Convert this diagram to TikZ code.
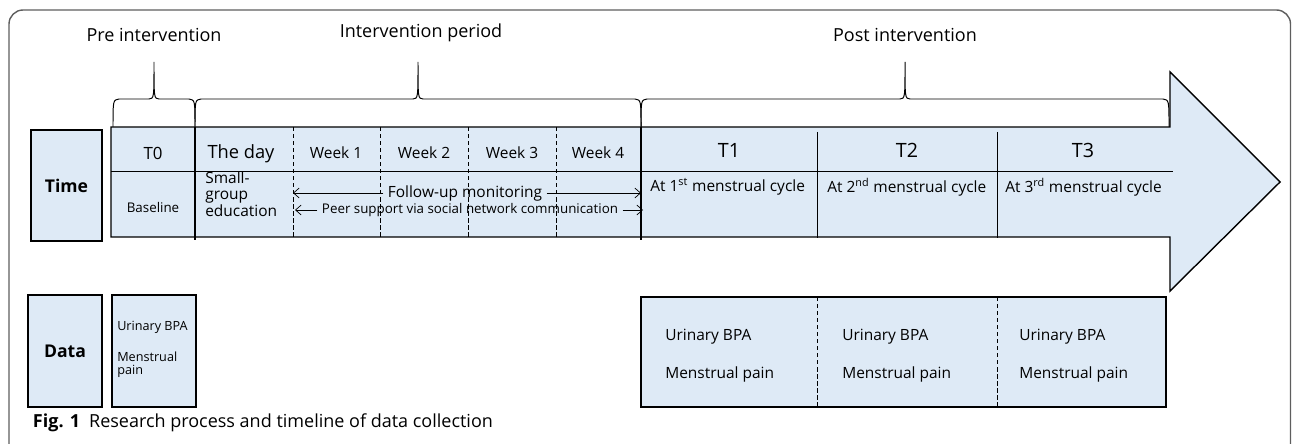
\documentclass[tikz,border=0pt]{standalone}
\usepackage{fontspec}
\setmainfont{Open Sans}
\usetikzlibrary{arrows.meta,positioning,calc}
\definecolor{paleblue}{HTML}{DEEAF6}
\definecolor{framegray}{HTML}{5E5E5E}

\begin{document}
\begin{tikzpicture}[x=.025cm,y=-.025cm,
  phase/.style={font=\fontsize{12.8}{15}\selectfont},
  box/.style={draw,line width=1.1pt,fill=paleblue,inner sep=0pt},
  cell/.style={font=\fontsize{11}{13}\selectfont},
  note/.style={font=\fontsize{11}{13}\selectfont,anchor=west,inner sep=0pt},
  barb/.style={-{Straight Barb[length=4pt,width=7pt]},line width=.5pt}]
\useasboundingbox (0,0) rectangle (1292,444);
\draw[framegray,line width=1pt,rounded corners=10pt] (9,470)--(9,10)--(1290.5,10)--(1290.5,470);
% phases and braces
\node[phase] (pre) at (154,35){Pre intervention};
\node[phase] (during) at (421,33){Intervention period};
\node[phase] (post) at (905,35){Post intervention};
\foreach \a/\m/\b in {113/154/195,195/418/641,641/905/1169}
  \draw[line width=.7pt] (\a,128) .. controls (\a,100) .. (\a+6,99) -- (\m-5,99) .. controls (\m,98.5) .. (\m,62) .. controls (\m,98.5) .. (\m+5,99) -- (\b-6,99) .. controls (\b,100) .. (\b,128);
% timeline arrow
\draw[line width=1pt,fill=paleblue] (111,127)--(1170,127)--(1170,72)--(1280,182)--(1170,291)--(1170,237)--(111,237)--cycle;
\draw[line width=.7pt] (111,171)--(1173,171);
\draw[line width=.8pt] (195,127)--(195,240) (641,127)--(641,240);
\draw[line width=.7pt] (817,132)--(817,238) (997,132)--(997,238);
\foreach \x in {293,380,468,556}
  \draw[dash pattern=on 3pt off 2pt,line width=.4pt] (\x,127)--(\x,237);
% row labels
\node[box,minimum width=1.78cm,minimum height=2.78cm,font=\fontsize{12.5}{14}\selectfont\bfseries] (time) at (66.5,185.5){Time};
\node[box,minimum width=1.86cm,minimum height=2.8cm,font=\fontsize{12.5}{14}\selectfont\bfseries] (data) at (65,351){Data};
% top row
\node[cell,font=\fontsize{12}{14}\selectfont] (t0) at (153,153){T0};
\node[cell,font=\fontsize{13}{15}\selectfont] (day) at (241,154){The day};
\node[cell] (w1) at (336,153){Week 1};
\node[cell] (w2) at (424,153){Week 2};
\node[cell] (w3) at (512,153){Week 3};
\node[cell] (w4) at (598,153){Week 4};
\node[cell,font=\fontsize{14}{16}\selectfont] (t1) at (729,150){T1};
\node[cell,font=\fontsize{14}{16}\selectfont] (t2) at (907,150){T2};
\node[cell,font=\fontsize{14}{16}\selectfont] (t3) at (1083,150){T3};
% bottom row
\node[font=\fontsize{9.5}{11}\selectfont] (base) at (153,207){Baseline};
\node[note,align=left,font=\fontsize{11}{11.6}\selectfont] (edu) at (205,194){Small-\\group\\education};
\node[note] (c1) at (650,187){At 1\textsuperscript{st} menstrual cycle};
\node[note] (c2) at (827,187){At 2\textsuperscript{nd} menstrual cycle};
\node[note] (c3) at (1005,187){At 3\textsuperscript{rd} menstrual cycle};
\node[cell,inner sep=3pt] (fu) at (465,193){Follow-up monitoring};
\node[font=\fontsize{9.5}{11}\selectfont,inner sep=3pt] (peer) at (470,210){Peer support via social network communication};
\coordinate (fuL) at (293,193); \coordinate (fuR) at (641,193);
\coordinate (peerL) at (295,210); \coordinate (peerR) at (643,210);
\draw[barb] (fu.west)--(fuL);
\draw[barb] (fu.east)--(fuR);
\draw[barb] (peer.west)--(peerL);
\draw[barb] (peer.east)--(peerR);
% data collected
\draw[box] (112,295) rectangle (196,407);
\node[note,font=\fontsize{9}{10}\selectfont] (bpa0) at (117,327){Urinary BPA};
\node[note,align=left,font=\fontsize{9}{9.5}\selectfont] (pain0) at (117,365){Menstrual\\pain};
\draw[box] (641,297) rectangle (1166,407);
\foreach \x in {817,997}
  \draw[dash pattern=on 3pt off 2pt,line width=.4pt] (\x,297)--(\x,407);
\foreach \x/\n in {665/1,842/2,1019/3}{
  \node[note] (bpa\n) at (\x,337){Urinary BPA};
  \node[note] (pain\n) at (\x,374){Menstrual pain};}
% caption
\node[anchor=west,font=\fontsize{12.8}{15}\selectfont] (cap) at (28,423){\textbf{Fig. 1}\enspace Research process and timeline of data collection};
\end{tikzpicture}
\end{document}
